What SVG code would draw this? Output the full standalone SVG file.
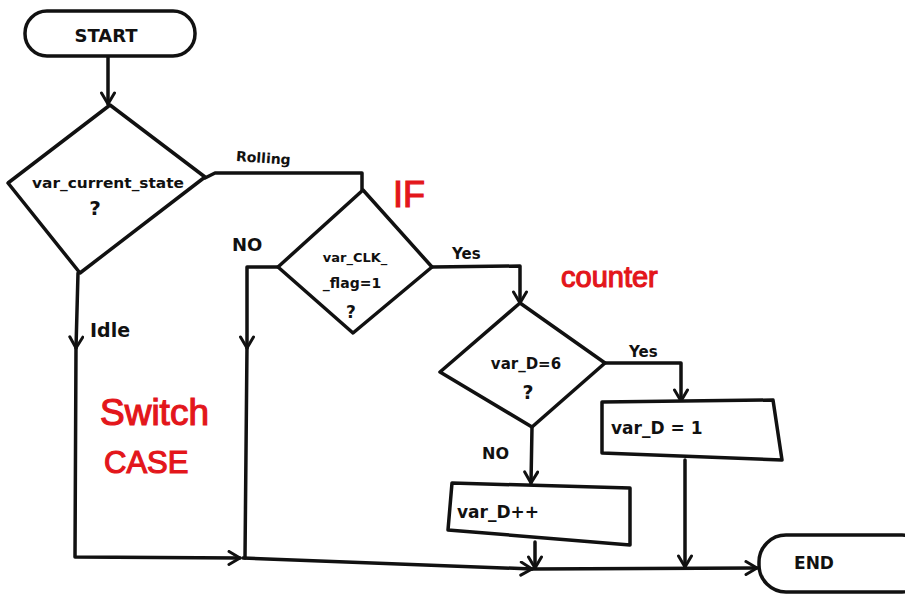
<svg xmlns="http://www.w3.org/2000/svg" width="905" height="596" viewBox="0 0 905 596">
  <style>
    .ln { fill: none; stroke: #111; stroke-width: 3.5; stroke-linecap: round; stroke-linejoin: round; }
    .shape { fill: #fff; stroke: #111; stroke-width: 3.5; stroke-linejoin: round; }
    .t { font-family: "DejaVu Sans", "Liberation Sans", sans-serif; font-weight: bold; fill: #111; }
    .lbl { font-family: "DejaVu Sans", "Liberation Sans", sans-serif; font-weight: bold; fill: #111; }
    .red { font-family: "Liberation Sans", "DejaVu Sans", sans-serif; fill: #e3161b; stroke: #e3161b; stroke-width: 1.2; }
  </style>
  <defs>
    <marker id="arr" viewBox="0 0 16 16" refX="13" refY="8" markerWidth="16" markerHeight="16" orient="auto" markerUnits="userSpaceOnUse">
      <path d="M2,1.5 L13,8 L2,14.5" fill="none" stroke="#111" stroke-width="3" stroke-linecap="round" stroke-linejoin="round"/>
    </marker>
  </defs>
  <rect width="905" height="596" fill="#fff"/>

  <!-- connectors -->
  <g id="connectors">
    <path class="ln" d="M108,56 L108,104" marker-end="url(#arr)"/>
    <!-- Rolling branch -->
    <path class="ln" d="M205,178 L215,173 L362,173 L362,190"/>
    <!-- Idle branch -->
    <path class="ln" d="M78,273 L76,348" marker-end="url(#arr)"/>
    <path class="ln" d="M76,346 L75,557 L240,558" marker-end="url(#arr)"/>
    <!-- NO branch of flag test -->
    <path class="ln" d="M278,267 L247,267 L247,348" marker-end="url(#arr)"/>
    <path class="ln" d="M247,346 L245,558"/>
    <!-- merge line to END -->
    <path class="ln" d="M243,558 L532,569" marker-end="url(#arr)"/>
    <path class="ln" d="M530,569 L757,568" marker-end="url(#arr)"/>
    <!-- Yes branch of flag test -->
    <path class="ln" d="M432,267 L520,266 L520,303" marker-end="url(#arr)"/>
    <!-- Yes branch of counter test -->
    <path class="ln" d="M605,363 L681,363 L681,401" marker-end="url(#arr)"/>
    <!-- NO branch of counter test -->
    <path class="ln" d="M532,427 L531,483" marker-end="url(#arr)"/>
    <!-- process outputs -->
    <path class="ln" d="M535,542 L535,568" marker-end="url(#arr)"/>
    <path class="ln" d="M685,460 L685,567" marker-end="url(#arr)"/>
  </g>

  <!-- edge labels -->
  <g id="edge-labels">
    <text class="lbl" x="236" y="163" font-size="14" transform="rotate(4 265 158)">Rolling</text>
    <text class="lbl" x="90" y="337" font-size="19">Idle</text>
    <text class="lbl" x="232" y="251" font-size="18">NO</text>
    <text class="lbl" x="452" y="259" font-size="15">Yes</text>
    <text class="lbl" x="629" y="357" font-size="15">Yes</text>
    <text class="lbl" x="482" y="459" font-size="16">NO</text>
  </g>

  <!-- annotations -->
  <g id="annotations">
    <text class="red" x="100" y="425" font-size="37">Switch</text>
    <text class="red" x="104" y="473" font-size="31">CASE</text>
    <text class="red" x="393" y="207" font-size="36">IF</text>
    <text class="red" x="561" y="287" font-size="29">counter</text>
  </g>

  <g id="start">
    <rect class="shape" x="25" y="11" width="170" height="45" rx="22"/>
    <text class="t" x="106" y="42" font-size="18" text-anchor="middle">START</text>
  </g>

  <g id="state-test">
    <path class="shape" d="M110,105 L205,177 L80,273 L8,183 Z"/>
    <text class="t" x="32" y="188" font-size="14" textLength="152" lengthAdjust="spacingAndGlyphs">var_current_state</text>
    <text class="t" x="95" y="215" font-size="20" text-anchor="middle">?</text>
  </g>

  <g id="flag-test">
    <path class="shape" d="M363,190 L432,267 L353,333 L278,267 Z"/>
    <text class="t" x="355" y="262" font-size="13" text-anchor="middle">var_CLK_</text>
    <text class="t" x="352" y="288" font-size="14" text-anchor="middle">_flag=1</text>
    <text class="t" x="351" y="318" font-size="17" text-anchor="middle">?</text>
  </g>

  <g id="counter-test">
    <path class="shape" d="M520,303 L605,363 L532,427 L440,372 Z"/>
    <text class="t" x="526" y="369" font-size="15" text-anchor="middle">var_D=6</text>
    <text class="t" x="528" y="399" font-size="19" text-anchor="middle">?</text>
  </g>

  <g id="reset">
    <path class="shape" d="M602,402 L773,400 L782,460 L602,453 Z"/>
    <text class="t" x="611" y="434" font-size="17">var_D = 1</text>
  </g>

  <g id="increment">
    <path class="shape" d="M452,483 L630,488 L630,545 L448,530 Z"/>
    <text class="t" x="457" y="518" font-size="17">var_D++</text>
  </g>

  <g id="end">
    <rect class="shape" x="759" y="535" width="170" height="57" rx="27"/>
    <text class="t" x="814" y="569" font-size="17" text-anchor="middle">END</text>
  </g>
</svg>
